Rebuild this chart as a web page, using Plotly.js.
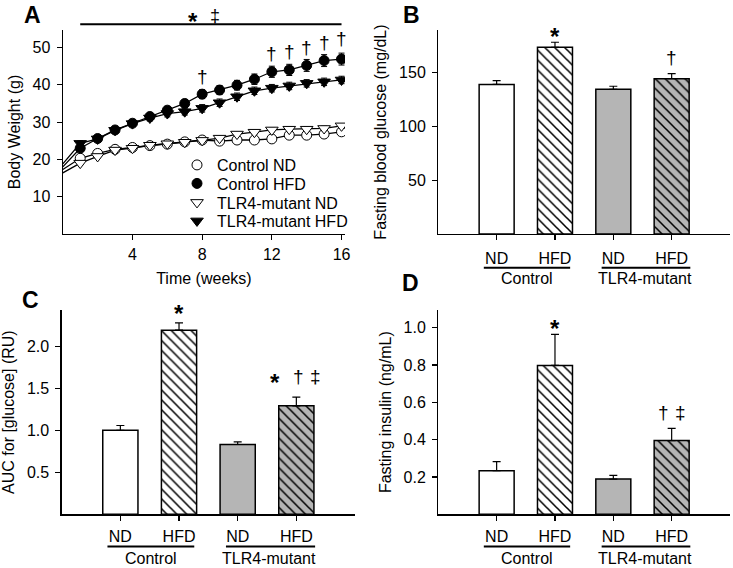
<!DOCTYPE html>
<html>
<head>
<meta charset="utf-8">
<script src="https://cdn.plot.ly/plotly-3.0.1.min.js"></script>
<style>html,body{margin:0;padding:0;background:#fff;}#chart{width:733px;height:568px;}</style>
</head>
<body>
<div id="chart"></div>
<script>
// ---------- Panel A: body weight over time ----------
const weeks = [0,1,2,3,4,5,6,7,8,9,10,11,12,13,14,15,16];
const ctrlND  = [17.3,20.3,21.6,22.7,23.2,23.7,24.1,24.7,25.2,24.9,25.2,25.2,25.5,26.5,26.5,26.8,27.4];
const ctrlHFD = [18.0,23.0,25.6,27.9,29.7,31.5,33.2,35.0,37.5,38.6,39.9,41.5,43.5,44.0,45.2,46.5,46.9];
const tlrND   = [16.4,19.0,20.8,22.5,23.0,23.8,24.2,24.6,25.1,25.7,26.8,27.3,27.9,28.1,28.1,28.3,29.0];
const tlrHFD  = [18.8,24.3,25.5,27.8,29.6,31.1,32.3,32.8,33.7,35.2,36.8,38.4,39.1,39.7,40.4,40.8,41.3];
const ctrlNDErr  = [0,0.4,0.4,0.4,0.4,0.4,0.5,0.5,0.5,0.5,0.5,0.5,0.5,0.6,0.6,0.6,0.6];
const ctrlHFDErr = [0,0.8,0.8,0.8,0.8,0.9,1.0,1.0,1.2,1.2,1.3,1.4,1.5,1.5,1.6,1.6,1.6];
const tlrNDErr   = [0,0.4,0.4,0.4,0.4,0.4,0.5,0.5,0.5,0.5,0.5,0.5,0.5,0.6,0.6,0.6,0.6];
const tlrHFDErr  = [0,0.7,0.7,0.7,0.8,0.8,0.9,0.9,1.0,1.0,1.0,1.0,1.0,1.0,1.0,1.0,1.0];
const weightLabels = ['Control ND','Control HFD','TLR4-mutant ND','TLR4-mutant HFD'];
const daggerWeeks = [8,12,13,14,15,16];

// ---------- Panels B-D: bar charts ----------
const groups = ['Control ND','Control HFD','TLR4-mutant ND','TLR4-mutant HFD'];
const dietLabels = ['ND','HFD','ND','HFD'];
const genotypeLabels = ['Control','TLR4-mutant'];
const glucose    = [139.0, 173.5, 134.5, 144.3];
const glucoseErr = [3.6, 4.7, 2.8, 4.7];
const auc        = [1.00, 2.19, 0.83, 1.29];
const aucErr     = [0.056, 0.087, 0.032, 0.103];
const insulin    = [0.234, 0.798, 0.189, 0.395];
const insulinErr = [0.048, 0.166, 0.020, 0.066];

// ---------- helpers ----------
const W = 733, H = 568;
const X = px => px / W;
const Y = py => 1 - py / H;
const FONT = 'Arial, "Liberation Sans", sans-serif';
const GRAY = '#b5b5b5';

const idx = weeks.map((_, i) => i).slice(1);
const pick = (arr) => idx.map(i => arr[i]);

function lineTrace(y) {
  return {x: weeks, y: y, mode: 'lines', xaxis: 'x', yaxis: 'y',
    line: {color: 'black', width: 1.3}, showlegend: false, hoverinfo: 'skip'};
}
function markerTrace(y, err, name, symbol, fill, leg, size) {
  return {x: pick(weeks), y: pick(y), mode: 'markers', name: name, xaxis: 'x', yaxis: 'y',
    legend: leg,
    marker: {symbol: symbol, size: size, color: fill, line: {color: 'black', width: 1}},
    error_y: {type: 'data', array: pick(err), visible: true, color: 'black', thickness: 1, width: 3}};
}

const barColors = ['white', 'white', GRAY, GRAY];
const barShapes = ['', '\\', '', '\\'];
function barTraces(vals, err, xa, ya) {
  return groups.map((g, i) => ({type: 'bar', x: [g], y: [vals[i]], xaxis: xa, yaxis: ya,
    width: 0.6, showlegend: false,
    marker: {color: barColors[i], line: {color: 'black', width: 1.5},
      pattern: {shape: barShapes[i], fgcolor: 'black', bgcolor: barColors[i], size: 7, solidity: 0.22, fillmode: 'replace'}},
    error_y: {type: 'data', symmetric: false, array: [err[i]], arrayminus: [0],
      color: 'black', thickness: 1.2, width: 4}}));
}

const traces = [
  lineTrace(ctrlND), lineTrace(tlrND), lineTrace(ctrlHFD), lineTrace(tlrHFD),
  markerTrace(ctrlND, ctrlNDErr, weightLabels[0], 'circle', 'white', 'legend', 10),
  markerTrace(tlrND, tlrNDErr, weightLabels[2], 'triangle-down', 'white', 'legend3', 11),
  markerTrace(ctrlHFD, ctrlHFDErr, weightLabels[1], 'circle', 'black', 'legend2', 10),
  markerTrace(tlrHFD, tlrHFDErr, weightLabels[3], 'triangle-down', 'black', 'legend4', 11)
].concat(barTraces(glucose, glucoseErr, 'x2', 'y2'),
         barTraces(auc, aucErr, 'x3', 'y3'),
         barTraces(insulin, insulinErr, 'x4', 'y4'));

const tickFont = {family: FONT, size: 16, color: 'black'};
const baseAxis = {showline: true, linecolor: 'black', linewidth: 1.3, ticks: 'outside',
  ticklen: 5, tickwidth: 1.2, tickcolor: 'black', showgrid: false, zeroline: false,
  tickfont: tickFont, fixedrange: true};
function catAxis(domain, anchor, standoff) {
  return Object.assign({}, baseAxis, {domain: domain, anchor: anchor, type: 'category',
    range: [-1, 4], tickvals: groups, ticktext: dietLabels, ticklabelstandoff: standoff});
}
function valAxis(domain, anchor, range, tickvals, fmt, title, standoff) {
  return Object.assign({}, baseAxis, {domain: domain, anchor: anchor, range: range,
    tickvals: tickvals, tickformat: fmt, ticklabelstandoff: 3,
    title: {text: title, font: {family: FONT, size: 16, color: 'black'}, standoff: standoff}});
}

const leftDom = [X(62.8), X(345)];
const rightDom = [X(438.3), X(730)];
const topDom = [Y(234), Y(30)];
const botDom = [Y(514.3), Y(310)];

const annFont = (s, bold) => ({family: FONT, size: s, color: 'black', weight: bold ? 'bold' : 'normal'});
const annotations = [];
function txt(text, xref, x, py, size, bold, yanchor) {
  annotations.push({text: text, xref: xref, x: x, yref: 'paper', y: Y(py), showarrow: false,
    xanchor: 'center', yanchor: yanchor || 'middle', borderpad: 0, font: annFont(size, bold)});
}
// panel letters
txt('<b>A</b>', 'paper', X(32), 15, 23, true);
txt('<b>B</b>', 'paper', X(411), 15, 23, true);
txt('<b>C</b>', 'paper', X(30), 300, 23, true);
txt('<b>D</b>', 'paper', X(410), 283, 23, true);

// panel A significance marks
txt('*', 'paper', X(193), 22, 24, true);
txt('‡', 'paper', X(215), 16, 18, false);
const daggerY = [77, 53, 52, 47, 42, 38];
daggerWeeks.forEach((w, i) => txt('†', 'x', w, daggerY[i], 19, false));

// panel B
txt('*', 'x2', 1, 37, 24, true);
txt('†', 'x2', 3, 58, 19, false);
// panel C
txt('*', 'x3', 1, 313, 24, true);
txt('*', 'x3', 2.63, 382, 24, true);
txt('†', 'x3', 3.03, 376, 19, false);
txt('‡', 'x3', 3.33, 376, 19, false);
// panel D
txt('*', 'x4', 1, 328, 24, true);
txt('†', 'x4', 2.86, 412, 19, false);
txt('‡', 'x4', 3.15, 412, 19, false);

// group labels below bar charts
const shapes = [];
shapes.push({type: 'line', xref: 'x', yref: 'paper', x0: 1, x1: 16, y0: Y(24.3), y1: Y(24.3), line: {color: 'black', width: 2}});
[['x2', 267.7, 278, 'middle'], ['x3', 546.5, 568, 'bottom'], ['x4', 546.5, 568, 'bottom']].forEach(([xr, uy, ly, ya]) => {
  shapes.push({type: 'line', xref: xr, yref: 'paper', x0: -0.22, x1: 1.26, y0: Y(uy), y1: Y(uy), line: {color: 'black', width: 2}});
  shapes.push({type: 'line', xref: xr, yref: 'paper', x0: 1.8, x1: 3.32, y0: Y(uy), y1: Y(uy), line: {color: 'black', width: 2}});
  txt(genotypeLabels[0], xr, 0.52, ly, 16, false, ya);
  txt(genotypeLabels[1], xr, 2.54, ly, 16, false, ya);
});

const legBase = {x: X(177), xanchor: 'left', yanchor: 'middle', bgcolor: 'rgba(0,0,0,0)',
  font: {family: FONT, size: 16, color: 'black'}, borderwidth: 0};

const layout = {
  width: W, height: H, margin: {l: 0, r: 0, t: 0, b: 0},
  paper_bgcolor: 'white', plot_bgcolor: 'white', font: {family: FONT, color: 'black'},
  barmode: 'overlay',
  xaxis: Object.assign({}, baseAxis, {domain: leftDom, anchor: 'y', range: [0, 16.2],
    tickvals: [4, 8, 12, 16], ticklabelstandoff: 0,
    title: {text: 'Time (weeks)', font: {family: FONT, size: 16, color: 'black'}, standoff: 11}}),
  yaxis: valAxis(topDom, 'x', [0, 54.7], [10, 20, 30, 40, 50], '', 'Body Weight (g)', 8),
  xaxis2: catAxis(rightDom, 'y2', 4),
  yaxis2: valAxis(topDom, 'x2', [0, 189.6], [50, 100, 150], '', 'Fasting blood glucose (mg/dL)', 8),
  xaxis3: catAxis([X(61.7), X(355)], 'y3', 2),
  yaxis3: valAxis(botDom, 'x3', [0, 2.43], [0.5, 1.0, 1.5, 2.0], '.1f', 'AUC for [glucose] (RU)', 8),
  xaxis4: catAxis(rightDom, 'y4', 2),
  yaxis4: valAxis(botDom, 'x4', [0, 1.095], [0.2, 0.4, 0.6, 0.8, 1.0], '.1f', 'Fasting insulin (ng/mL)', 8),
  legend: Object.assign({}, legBase, {y: Y(165)}),
  legend2: Object.assign({}, legBase, {y: Y(183.5)}),
  legend3: Object.assign({}, legBase, {y: Y(202.5)}),
  legend4: Object.assign({}, legBase, {y: Y(221)}),
  annotations: annotations,
  shapes: shapes,
  showlegend: true
};

Plotly.newPlot('chart', traces, layout, {staticPlot: true, displayModeBar: false});
</script>
</body>
</html>
